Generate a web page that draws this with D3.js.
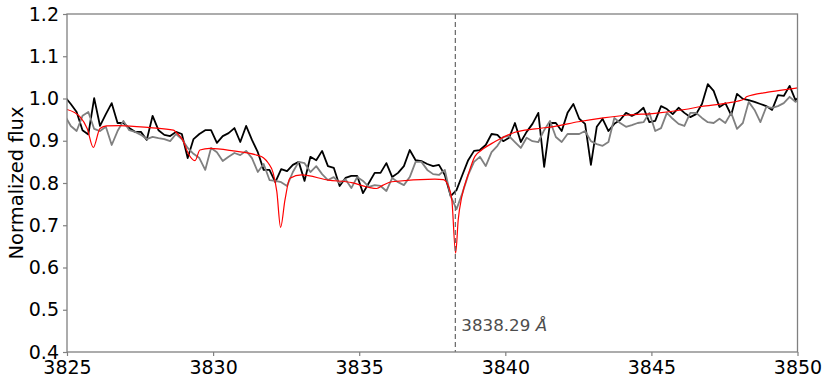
<!DOCTYPE html>
<html><head><meta charset="utf-8">
<script src="https://cdn.jsdelivr.net/npm/d3@7"></script>
<style>body{margin:0;background:#fff}</style>
</head><body><svg id="c" width="830" height="385"></svg>
<script>
const wavelength = [
3824.93,3825.13,3825.33,3825.53,3825.73,3825.93,3826.13,3826.33,3826.53,3826.73,
3826.93,3827.13,3827.33,3827.53,3827.73,3827.93,3828.13,3828.33,3828.53,3828.73,
3828.93,3829.13,3829.33,3829.53,3829.73,3829.93,3830.13,3830.33,3830.53,3830.73,
3830.93,3831.13,3831.33,3831.53,3831.73,3831.93,3832.13,3832.33,3832.53,3832.73,
3832.93,3833.13,3833.33,3833.53,3833.73,3833.93,3834.13,3834.33,3834.53,3834.73,
3834.93,3835.13,3835.33,3835.53,3835.73,3835.93,3836.13,3836.33,3836.53,3836.73,
3836.93,3837.13,3837.33,3837.53,3837.73,3837.93,3838.13,3838.33,3838.53,3838.73,
3838.93,3839.13,3839.33,3839.53,3839.73,3839.93,3840.13,3840.33,3840.53,3840.73,
3840.93,3841.13,3841.33,3841.53,3841.73,3841.93,3842.13,3842.33,3842.53,3842.73,
3842.93,3843.13,3843.33,3843.53,3843.73,3843.93,3844.13,3844.33,3844.53,3844.73,
3844.93,3845.13,3845.33,3845.53,3845.73,3845.93,3846.13,3846.33,3846.53,3846.73,
3846.93,3847.13,3847.33,3847.53,3847.73,3847.93,3848.13,3848.33,3848.53,3848.73,
3848.93,3849.13,3849.33,3849.53,3849.73,3849.93,3850.13];

const fluxBlack = [
1.004,0.987,0.968,0.925,0.915,1.001,0.935,0.963,0.989,0.942,
0.942,0.930,0.921,0.921,0.902,0.959,0.925,0.914,0.911,0.921,
0.916,0.859,0.904,0.916,0.925,0.925,0.895,0.911,0.918,0.930,
0.897,0.935,0.902,0.873,0.831,0.831,0.802,0.833,0.828,0.843,
0.850,0.805,0.862,0.854,0.876,0.840,0.836,0.793,0.812,0.817,
0.817,0.776,0.800,0.824,0.824,0.847,0.814,0.824,0.840,0.878,
0.854,0.852,0.845,0.840,0.843,0.819,0.769,0.783,0.819,0.854,
0.876,0.878,0.890,0.916,0.914,0.899,0.907,0.942,0.897,0.921,
0.940,0.966,0.838,0.942,0.942,0.923,0.966,0.987,0.952,0.940,
0.843,0.933,0.952,0.923,0.940,0.949,0.966,0.959,0.966,0.978,
0.944,0.947,0.982,0.975,0.963,0.978,0.966,0.956,0.963,0.987,
1.034,1.018,0.980,0.989,0.961,1.011,0.999,0.996,0.992,0.987,
0.982,0.973,1.008,1.006,1.030,0.996,1.008];

const fluxGray = [
0.959,0.935,0.923,0.959,0.968,0.928,0.923,0.933,0.890,0.923,
0.947,0.925,0.921,0.914,0.904,0.909,0.906,0.904,0.899,0.916,
0.904,0.883,0.869,0.859,0.831,0.883,0.873,0.852,0.862,0.871,
0.866,0.876,0.859,0.826,0.845,0.807,0.805,0.802,0.793,0.826,
0.850,0.847,0.826,0.840,0.821,0.807,0.814,0.800,0.809,0.788,
0.814,0.805,0.791,0.795,0.793,0.781,0.812,0.802,0.795,0.814,
0.850,0.850,0.831,0.821,0.819,0.831,0.769,0.738,0.776,0.819,
0.850,0.862,0.840,0.873,0.888,0.909,0.911,0.897,0.883,0.907,
0.899,0.897,0.925,0.947,0.909,0.897,0.916,0.916,0.916,0.923,
0.899,0.892,0.888,0.897,0.954,0.942,0.933,0.937,0.942,0.944,
0.966,0.923,0.930,0.966,0.952,0.940,0.935,0.966,0.966,0.954,
0.944,0.942,0.952,0.942,0.966,0.928,0.942,0.992,0.973,0.944,
0.980,0.978,0.982,0.989,1.004,0.992,1.001];

const modelWave = [
3825.00,3825.44,3825.69,3825.90,3826.13,3826.36,3826.81,3827.84,3828.64,3828.75,
3828.96,3829.15,3829.38,3829.55,3829.89,3830.69,3831.49,3831.72,3831.88,3832.06,
3832.18,3832.31,3832.46,3832.63,3833.03,3833.94,3834.74,3835.31,3835.60,3835.82,
3836.11,3837.59,3837.88,3838.05,3838.17,3838.30,3838.39,3838.51,3838.73,3838.96,
3839.19,3839.65,3840.10,3840.33,3841.02,3841.70,3842.50,3843.35,3844.21,3845.12,
3846.14,3846.71,3847.56,3848.19,3848.25,3848.99,3849.90,3850.00];
const modelFlux = [
0.974,0.957,0.929,0.884,0.929,0.935,0.936,0.931,0.925,0.919,
0.902,0.870,0.853,0.878,0.882,0.876,0.866,0.860,0.848,0.823,
0.780,0.695,0.760,0.811,0.819,0.807,0.801,0.790,0.787,0.795,
0.803,0.809,0.808,0.793,0.760,0.634,0.714,0.767,0.820,0.863,
0.878,0.898,0.914,0.920,0.928,0.934,0.945,0.954,0.961,0.965,
0.974,0.981,0.989,0.999,1.004,1.015,1.024,1.025];

const xTicks = [3825, 3830, 3835, 3840, 3845, 3850];
const yTicks = [0.4, 0.5, 0.6, 0.7, 0.8, 0.9, 1.0, 1.1, 1.2];
const lineWave = 3838.29;
const lineLabel = "3838.29 ";
const yLabel = "Normalized flux";

const svg = d3.select("#c");
svg.append("rect").attr("width", 830).attr("height", 385).attr("fill", "#fff");
const m = {l: 67, r: 797.5, t: 14, b: 352};
const x = d3.scaleLinear().domain([3825, 3850]).range([m.l, m.r]);
const y = d3.scaleLinear().domain([0.4, 1.2]).range([m.b, m.t]);

svg.append("clipPath").attr("id", "clip").append("rect")
  .attr("x", m.l).attr("y", m.t).attr("width", m.r - m.l).attr("height", m.b - m.t);

const g = svg.append("g").attr("clip-path", "url(#clip)");
const obs = d3.line().x((d, i) => x(wavelength[i])).y(d => y(d));
g.append("path").datum(fluxBlack).attr("d", obs)
  .attr("fill", "none").attr("stroke", "#000").attr("stroke-width", 1.8).attr("stroke-linejoin", "round");
g.append("path").datum(fluxGray).attr("d", obs)
  .attr("fill", "none").attr("stroke", "#808080").attr("stroke-width", 1.8).attr("stroke-linejoin", "round");
const mod = d3.line().x((d, i) => x(modelWave[i])).y(d => y(d)).curve(d3.curveMonotoneX);
g.append("path").datum(modelFlux).attr("d", mod)
  .attr("fill", "none").attr("stroke", "#ff0000").attr("stroke-width", 1.2);

// vertical marker
svg.append("line").attr("x1", x(lineWave)).attr("x2", x(lineWave))
  .attr("y1", m.t).attr("y2", m.b)
  .attr("stroke", "#666").attr("stroke-width", 1.2).attr("stroke-dasharray", "5,3");
const lt = svg.append("text").attr("x", x(lineWave) + 6).attr("y", 331)
  .attr("font-family", "DejaVu Sans").attr("font-size", 16.7).attr("fill", "#4d4d4d");
lt.append("tspan").text(lineLabel);
lt.append("tspan").attr("font-style", "italic").text("Å");

// axes
const xa = svg.append("g").attr("transform", `translate(0,${m.b})`)
  .call(d3.axisBottom(x).tickValues(xTicks).tickFormat(d3.format("d")).tickSize(4).tickPadding(5).tickSizeOuter(0));
const ya = svg.append("g").attr("transform", `translate(${m.l},0)`)
  .call(d3.axisLeft(y).tickValues(yTicks).tickFormat(d3.format(".1f")).tickSize(4).tickPadding(4).tickSizeOuter(0));
[xa, ya].forEach(a => {
  a.select(".domain").remove();
  a.selectAll(".tick line").attr("stroke", "#808080").attr("stroke-width", 1.2);
  a.selectAll(".tick text").attr("font-family", "DejaVu Sans").attr("font-size", 19).attr("fill", "#000");
});

// frame
svg.append("rect").attr("x", m.l).attr("y", m.t).attr("width", m.r - m.l).attr("height", m.b - m.t)
  .attr("fill", "none").attr("stroke", "#808080").attr("stroke-width", 1.3);

svg.append("text").attr("transform", `translate(16,${(m.t + m.b) / 2}) rotate(-90)`)
  .attr("text-anchor", "middle").attr("dominant-baseline", "central")
  .attr("font-family", "DejaVu Sans").attr("font-size", 19.5).attr("fill", "#000")
  .text(yLabel);
</script></body></html>
